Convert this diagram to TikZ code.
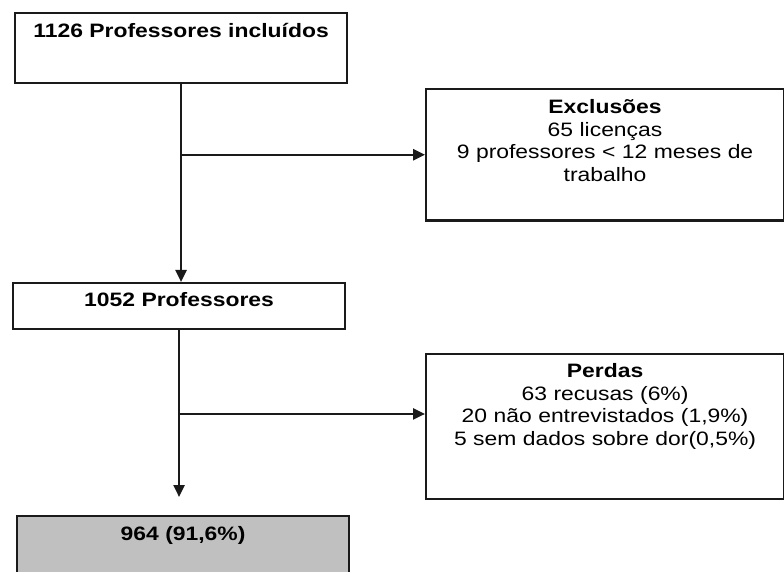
\documentclass[tikz,border=0pt]{standalone}
\usepackage{fontspec}
\setmainfont{Liberation Sans}[FakeStretch=1.18]
\usepackage{xcolor}
\usepackage{tikz}
\usetikzlibrary{arrows.meta,positioning,calc}
\definecolor{boxline}{HTML}{1A1A1A}
\definecolor{boxgray}{HTML}{C0C0C0}
\tikzset{
  fbox/.style={draw=boxline,fill=white,line width=1.5pt,inner sep=0pt,align=center,anchor=north west},
  fgray/.style={fbox,fill=boxgray},
  farr/.style={-{Triangle[length=3mm,width=2.8mm]},line width=1.5pt,draw=boxline}
}
\begin{document}
\begin{tikzpicture}[font=\fontsize{13.8}{16}\selectfont]
  \useasboundingbox (0,0) rectangle (19.6,-14.3);
  % left column
  \node[fbox,text width=8.3cm,text height=17.7pt,text depth=31.9pt] (incl) at (0.35,-0.30) {\textbf{1126 Professores incluídos}};
  \node[fbox,text width=8.3cm,text height=16.8pt,text depth=15.8pt] (prof) at (0.30,-7.05) {\textbf{1052 Professores}};
  \node[fgray,text width=8.3cm,text height=17.7pt,text depth=36.9pt] (final) at (0.40,-12.875) {\textbf{964 (91,6\%)}};
  % right column
  \node[fbox,text width=8.95cm,text height=17.7pt,text depth=75.8pt] (excl) at (10.625,-2.2)
    {\textbf{Exclusões}\\ 65 licenças\\ 9 professores < 12 meses de\\ trabalho};
  \node[fbox,text width=8.95cm,text height=17pt,text depth=85.8pt] (perd) at (10.625,-8.825)
    {\textbf{Perdas}\\ 63 recusas (6\%)\\ 20 não entrevistados (1,9\%)\\ 5 sem dados sobre dor(0,5\%)};
  % connectors
  \draw[farr] (incl.south) -- (incl.south |- prof.north);
  \draw[farr] (incl.south |- excl.west) -- (excl.west);
  \draw[farr,shorten >=0.45cm] (prof.south) -- (prof.south |- final.north);
  \coordinate (split) at ($(prof.south)+(0,-2.1)$);
  \draw[farr] (split) -- (split -| perd.west);
\end{tikzpicture}
\end{document}
